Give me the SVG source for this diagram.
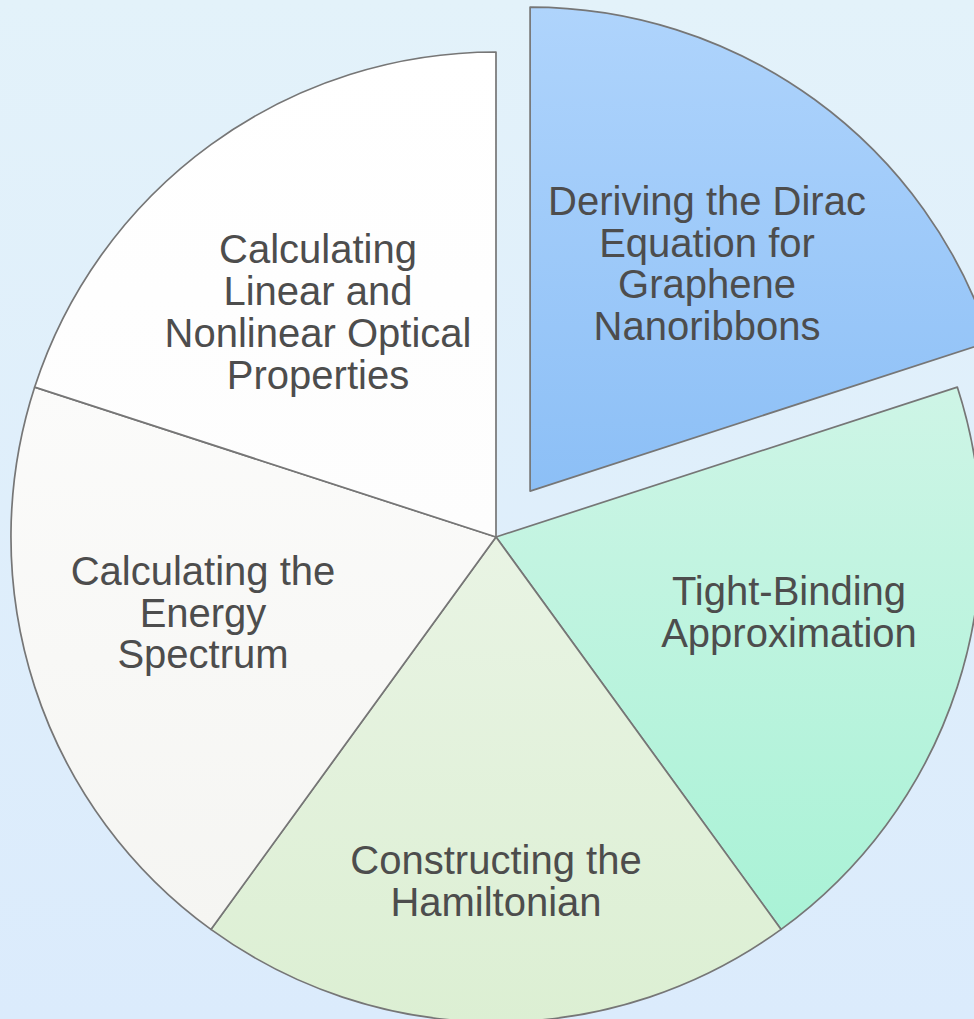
<svg xmlns="http://www.w3.org/2000/svg" width="974" height="1019" viewBox="0 0 974 1019">
<style>
.slice{stroke:#767676;stroke-width:1.7;stroke-linejoin:round}
.lbl{font-family:"Liberation Sans",Arial,sans-serif;font-size:40px;fill:#4d4d4d;text-anchor:middle}
</style>
<defs>
<linearGradient id="bg" x1="0" y1="0" x2="0" y2="1">
<stop offset="0" stop-color="#e3f2fa"/>
<stop offset="1" stop-color="#dbebfc"/>
</linearGradient>
<linearGradient id="gBlue" x1="0" y1="0" x2="0" y2="1">
<stop offset="0" stop-color="#afd4fc"/>
<stop offset="1" stop-color="#8cbff6"/>
</linearGradient>
<linearGradient id="gMint" x1="0" y1="0" x2="0" y2="1">
<stop offset="0" stop-color="#cef5e6"/>
<stop offset="1" stop-color="#a9f2d6"/>
</linearGradient>
<linearGradient id="gGreen" x1="0" y1="0" x2="0" y2="1">
<stop offset="0" stop-color="#e9f4e4"/>
<stop offset="1" stop-color="#dcefd3"/>
</linearGradient>
<linearGradient id="gGray" x1="0" y1="0" x2="0" y2="1">
<stop offset="0" stop-color="#fbfbfa"/>
<stop offset="1" stop-color="#f5f5f2"/>
</linearGradient>
<linearGradient id="gWhite" x1="0" y1="0" x2="0" y2="1">
<stop offset="0" stop-color="#ffffff"/>
<stop offset="1" stop-color="#fdfdfd"/>
</linearGradient>
</defs>
<rect width="974" height="1019" fill="url(#bg)"/>
<g id="slice-dirac">
<path class="slice" fill="url(#gBlue)" d="M530.1,491.1 L530.1,7.1 A484,484 0 0,1 990.4,341.5 Z"/>
<text class="lbl" x="707" y="215">Deriving the Dirac</text>
<text class="lbl" x="707" y="257">Equation for</text>
<text class="lbl" x="707" y="298">Graphene</text>
<text class="lbl" x="707" y="340">Nanoribbons</text>
</g>
<g id="slice-tight">
<path class="slice" fill="url(#gMint)" d="M496,537 L957.3,387.1 A485,485 0 0,1 781.1,929.4 Z"/>
<text class="lbl" x="789" y="605">Tight-Binding</text>
<text class="lbl" x="789" y="647">Approximation</text>
</g>
<g id="slice-hamiltonian">
<path class="slice" fill="url(#gGreen)" d="M496,537 L781.1,929.4 A485,485 0 0,1 210.9,929.4 Z"/>
<text class="lbl" x="496" y="874">Constructing the</text>
<text class="lbl" x="496" y="916">Hamiltonian</text>
</g>
<g id="slice-energy">
<path class="slice" fill="url(#gGray)" d="M496,537 L210.9,929.4 A485,485 0 0,1 34.7,387.1 Z"/>
<text class="lbl" x="203" y="585">Calculating the</text>
<text class="lbl" x="203" y="627">Energy</text>
<text class="lbl" x="203" y="668">Spectrum</text>
</g>
<g id="slice-optical">
<path class="slice" fill="url(#gWhite)" d="M496,537 L34.7,387.1 A485,485 0 0,1 496,52 Z"/>
<text class="lbl" x="318" y="263">Calculating</text>
<text class="lbl" x="318" y="305">Linear and</text>
<text class="lbl" x="318" y="347">Nonlinear Optical</text>
<text class="lbl" x="318" y="389">Properties</text>
</g>
<g id="connectors"/>
</svg>
